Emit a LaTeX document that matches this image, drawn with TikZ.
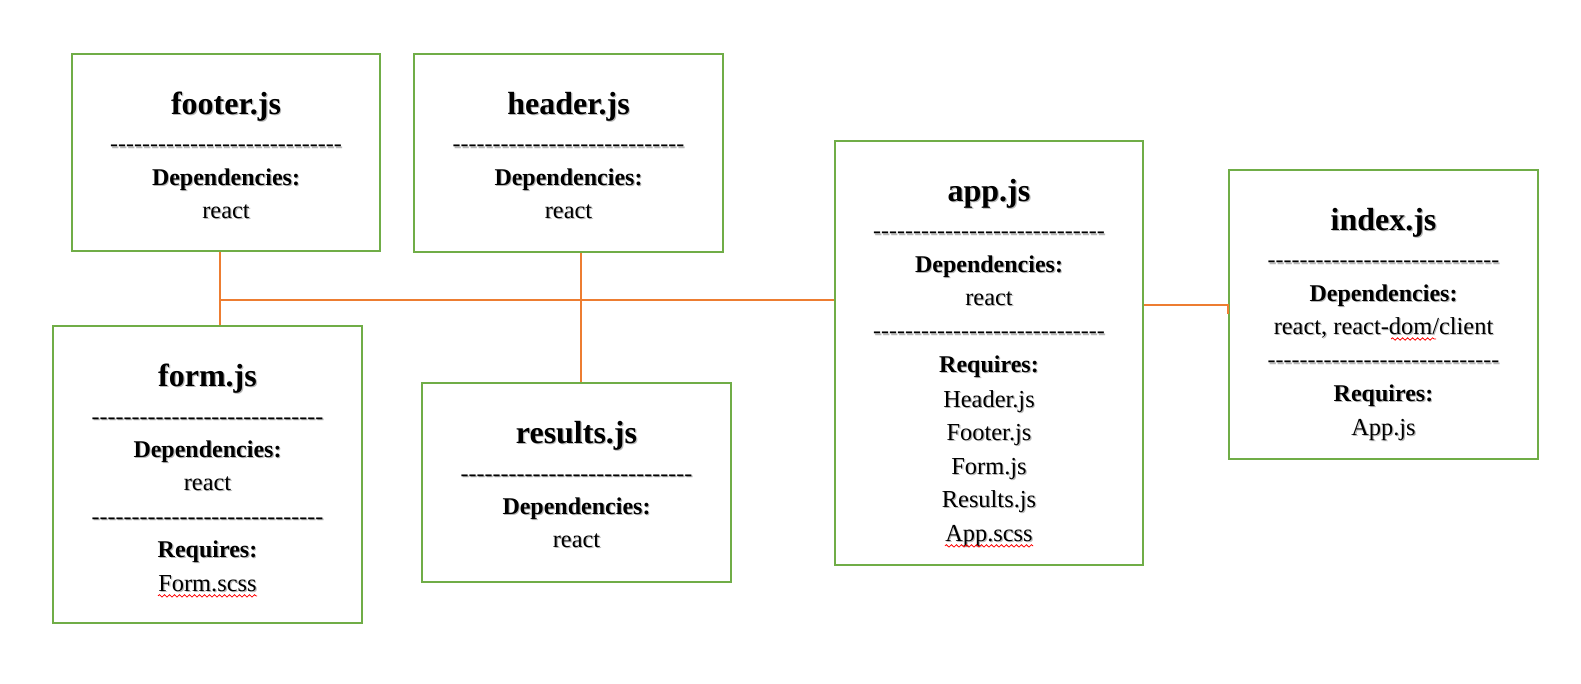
\documentclass[tikz,border=0pt]{standalone}
\usepackage{fontspec}
\newfontfamily\tnr{Liberation Serif}
\usetikzlibrary{fit,decorations.pathmorphing}
\definecolor{boxgreen}{HTML}{70AD47}
\definecolor{linkorange}{HTML}{ED7D31}
\newcommand\shd[1]{\makebox[0pt][l]{\hspace{0.6pt}\raisebox{-0.6pt}{\textcolor{black!28}{#1}}}#1}
\newcommand\hy{-\kern0pt}
\newcommand\dashrow{\hy\hy\hy\hy\hy\hy\hy\hy\hy\hy\hy\hy\hy\hy\hy\hy\hy\hy\hy\hy\hy\hy\hy\hy\hy\hy\hy\hy\hy}
\begin{document}
\begin{tikzpicture}[x=0.5pt,y=-0.5pt,
  filebox/.style={draw=boxgreen, line width=1pt, inner sep=0pt},
  ttl/.style={anchor=base, inner sep=0pt, font=\tnr\bfseries\fontsize{16}{18}\selectfont},
  hd/.style={anchor=base, inner sep=0pt, font=\tnr\bfseries\fontsize{12}{14}\selectfont},
  txt/.style={anchor=base, inner sep=0pt, font=\tnr\fontsize{12.2}{14}\selectfont},
  dsh/.style={anchor=base, inner sep=0pt, font=\tnr\fontsize{12}{14}\selectfont},
  link/.style={draw=linkorange, line width=0.9pt},
  spell/.style={draw=red, line width=0.4pt, decorate, decoration={snake, amplitude=0.6pt, segment length=2.5pt}}
]
\useasboundingbox (0,0) rectangle (1581,684);

% boxes
\node[filebox, fit={(72,54) (380,251)}] (footer) {};
\node[filebox, fit={(414,54) (723,252)}] (header) {};
\node[filebox, fit={(53,326) (362,623)}] (form) {};
\node[filebox, fit={(422,383) (731,582)}] (results) {};
\node[filebox, fit={(835,141) (1143,565)}] (app) {};
\node[filebox, fit={(1229,170) (1538,459)}] (index) {};

% footer
\node[ttl] (footer-t) at (226,114.5) {\shd{footer.js}};
\node[dsh] (footer-d) at (226,152) {\shd{\dashrow}};
\node[hd]  (footer-h) at (226,185.5) {\shd{Dependencies:}};
\node[txt] (footer-r) at (226,218.5) {\shd{react}};

% header
\node[ttl] (header-t) at (568.5,114.5) {\shd{header.js}};
\node[dsh] (header-d) at (568.5,152) {\shd{\dashrow}};
\node[hd]  (header-h) at (568.5,185.5) {\shd{Dependencies:}};
\node[txt] (header-r) at (568.5,218.5) {\shd{react}};

% form
\node[ttl] (form-t)  at (207.5,386.5) {\shd{form.js}};
\node[dsh] (form-d)  at (207.5,424) {\shd{\dashrow}};
\node[hd]  (form-h)  at (207.5,457.5) {\shd{Dependencies:}};
\node[txt] (form-r)  at (207.5,490.5) {\shd{react}};
\node[dsh] (form-d2) at (207.5,524) {\shd{\dashrow}};
\node[hd]  (form-q)  at (207.5,557.5) {\shd{Requires:}};
\node[txt] (form-x)  at (207.5,591.5) {\shd{Form.scss}};

% results
\node[ttl] (results-t) at (576.5,443.5) {\shd{results.js}};
\node[dsh] (results-d) at (576.5,481) {\shd{\dashrow}};
\node[hd]  (results-h) at (576.5,514.5) {\shd{Dependencies:}};
\node[txt] (results-r) at (576.5,547.5) {\shd{react}};

% app
\node[ttl] (app-t)  at (989,201.5) {\shd{app.js}};
\node[dsh] (app-d)  at (989,239) {\shd{\dashrow}};
\node[hd]  (app-h)  at (989,272.5) {\shd{Dependencies:}};
\node[txt] (app-r)  at (989,305.5) {\shd{react}};
\node[dsh] (app-d2) at (989,339) {\shd{\dashrow}};
\node[hd]  (app-q)  at (989,372.5) {\shd{Requires:}};
\node[txt] (app-1)  at (989,407.5) {\shd{Header.js}};
\node[txt] (app-2)  at (989,440.5) {\shd{Footer.js}};
\node[txt] (app-3)  at (989,474.5) {\shd{Form.js}};
\node[txt] (app-4)  at (989,507.5) {\shd{Results.js}};
\node[txt] (app-5)  at (989,541.5) {\shd{App.scss}};

% index
\node[ttl] (index-t)  at (1383.5,230.5) {\shd{index.js}};
\node[dsh] (index-d)  at (1383.5,268) {\shd{\dashrow}};
\node[hd]  (index-h)  at (1383.5,301.5) {\shd{Dependencies:}};
\node[txt] (index-r)  at (1383.5,334.5) {\shd{react, react-dom/client}};
\node[dsh] (index-d2) at (1383.5,368) {\shd{\dashrow}};
\node[hd]  (index-q)  at (1383.5,401.5) {\shd{Requires:}};
\node[txt] (index-1)  at (1383.5,435.5) {\shd{App.js}};

% spell-check underlines
\draw[spell] ([yshift=-2.2pt]form-x.base west) -- ([yshift=-2.2pt]form-x.base east);
\draw[spell] ([yshift=-2.2pt]app-5.base west) -- ([yshift=-2.2pt]app-5.base east);
\draw[spell] (1391,339) -- (1436,339);

% connectors
\coordinate (jf) at (220,300);
\coordinate (jh) at (581,300);
\coordinate (ja) at (1143,305);
\draw[link] (jf |- footer.south) -- (jf |- form.north);
\draw[link, line width=1.3pt] (jf) -- (jf -| app.west);
\draw[link] (jh |- header.south) -- (jh |- results.north);
\draw[link] (ja -| app.east) -| (index.west);
\end{tikzpicture}
\end{document}
